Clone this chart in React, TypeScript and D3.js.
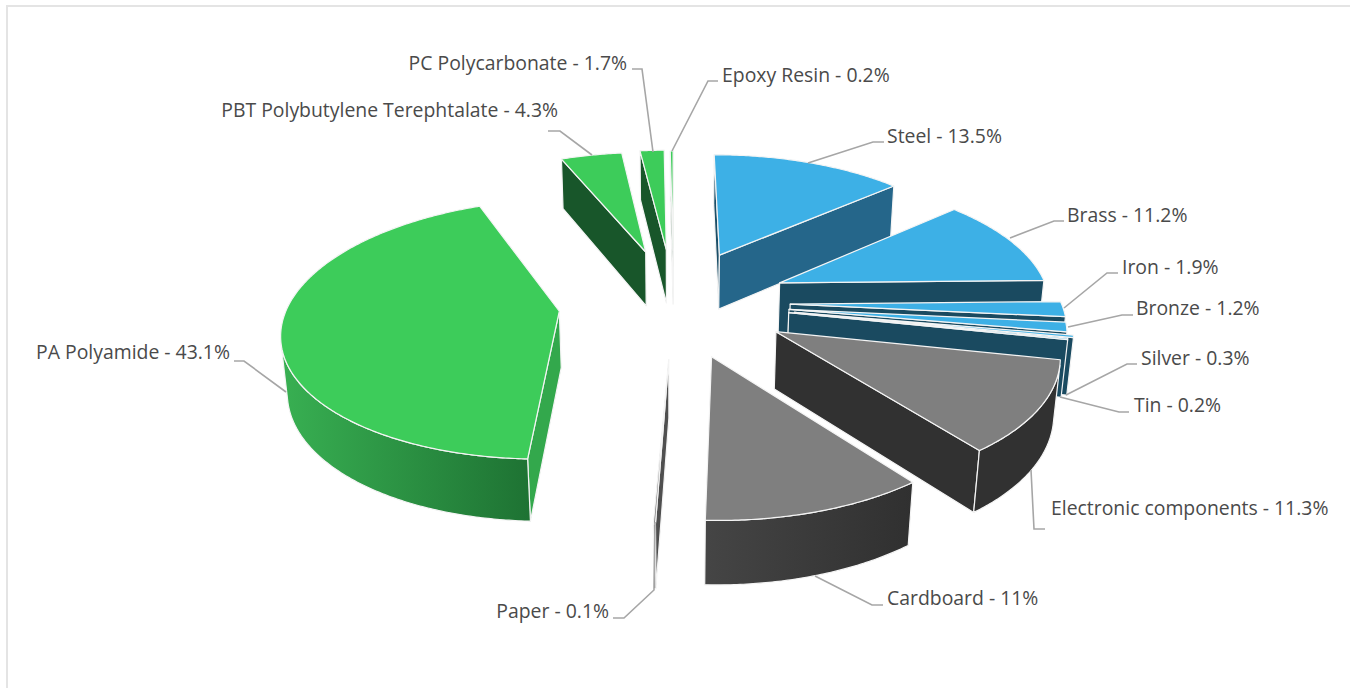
import React from "react";
import * as d3 from "d3";

// chart data
const materials = [
  "Steel", "Brass", "Iron", "Bronze", "Silver", "Tin", "Electronic components",
  "Cardboard", "Paper", "PA Polyamide", "PBT Polybutylene Terephtalate", "PC Polycarbonate", "Epoxy Resin",
];
const shares = [13.5, 11.2, 1.9, 1.2, 0.3, 0.2, 11.3, 11, 0.1, 43.1, 4.3, 1.7, 0.2];
const explosion = [0.431, 0.428, 0.429, 0.426, 0.448, 0.428, 0.432, 0.434, 0.433, 0.425, 0.435, 0.446, 0.436];

// colours per slice: top, start cut, end cut, rim left, rim right
const topColor = ["#3DB0E6", "#3DB0E6", "#3DB0E6", "#3DB0E6", "#3DB0E6", "#3DB0E6", "#7F7F7F", "#7F7F7F", "#7F7F7F", "#3DCC5A", "#3DCC5A", "#3DCC5A", "#3DCC5A"];
const startCut = ["#1C4F68", "#1A4A60", "#1A4A60", "#1A4A60", "#1A4A60", "#1A4A60", "#313131", "#313131", "#4F4F4F", "#33A84C", "#18562A", "#18562A", "#18562A"];
const endCut = ["#25668A", "#1A4A60", "#1A4A60", "#1A4A60", "#1A4A60", "#1A4A60", "#313131", "#313131", "#4F4F4F", "#33A84C", "#18562A", "#18562A", "#18562A"];
const rimLeft = ["#1A4A60", "#1A4A60", "#1A4A60", "#1A4A60", "#1A4A60", "#1A4A60", "#313131", "#454545", "#4F4F4F", "#38B052", "#18562A", "#18562A", "#18562A"];
const rimRight = ["#1A4A60", "#1A4A60", "#1A4A60", "#1A4A60", "#1A4A60", "#1A4A60", "#313131", "#303030", "#4F4F4F", "#1E7233", "#18562A", "#18562A", "#18562A"];

// label layout
const labelX = [887, 1067, 1122, 1136, 1141, 1134, 1051, 887, 609, 230, 558, 627, 722];
const labelY = [143, 222, 274, 315, 365, 412, 515, 605, 618, 359, 117, 70, 82];
const labelAnchor = ["start", "start", "start", "start", "start", "start", "start", "start", "end", "end", "end", "end", "start"];
const leaders: [number, number][][] = [
  [[808, 163], [873, 142], [884, 142]],
  [[1010, 238], [1054, 221], [1064, 221]],
  [[1064, 308], [1107, 273], [1118, 273]],
  [[1068, 327], [1122, 315], [1133, 315]],
  [[1066, 395], [1127, 364], [1137, 364]],
  [[1060, 397], [1119, 412], [1129, 412]],
  [[1031, 470], [1034, 529], [1045, 529]],
  [[815, 576], [872, 605], [883, 605]],
  [[655, 522], [654, 590], [624, 618], [613, 618]],
  [[286, 392], [244, 361], [234, 361]],
  [[592, 155], [560, 131], [548, 131]],
  [[653, 152], [642, 69], [632, 69]],
  [[672, 151], [708, 81], [718, 81]],
];

// camera of the 3D pie
const centerX = 675.61;
const centerY = 301.93;
const radius = 270.81;
const tilt = 0.4812;
const perspective = 0.1511;
const thickness = 0.2372;
const offsetX = -0.0066;
const rotation = -0.0012;

type Pt = [number, number];

const project = (x: number, y: number, z: number): Pt => {
  const w = 1 - perspective * (y * Math.cos(tilt) + z * Math.sin(tilt));
  return [
    centerX + (radius * x) / w,
    centerY + (radius * (y * Math.sin(tilt) - z * Math.cos(tilt))) / w,
  ];
};

const area = (pts: Pt[]) => d3.polygonArea(pts);
const line = d3.line<Pt>();
const closed = (pts: Pt[]) => (line(pts) as string) + "Z";

const arcs = d3
  .pie<number>()
  .sort(null)
  .value((d) => d)
  .startAngle(rotation)
  .endAngle(rotation + 2 * Math.PI)(shares);

function buildSlice(i: number) {
  const { startAngle, endAngle } = arcs[i];
  const mid = (startAngle + endAngle) / 2;
  const ox = offsetX + explosion[i] * Math.sin(mid);
  const oy = -explosion[i] * Math.cos(mid);
  const steps = Math.max(2, Math.ceil((endAngle - startAngle) / 0.01));
  const angles = d3.range(steps + 1).map((k) => startAngle + ((endAngle - startAngle) * k) / steps);
  const rimTop = angles.map((a) => project(ox + Math.sin(a), oy - Math.cos(a), 0));
  const rimBot = angles.map((a) => project(ox + Math.sin(a), oy - Math.cos(a), -thickness));
  const apexTop = project(ox, oy, 0);
  const apexBot = project(ox, oy, -thickness);
  const top: Pt[] = [apexTop, ...rimTop];
  const sign = Math.sign(area(top));
  const facing = (quad: Pt[]) => Math.sign(area(quad)) !== sign;

  const faces: { d: string; fill: string }[] = [];
  const startQuad: Pt[] = [apexTop, rimTop[0], rimBot[0], apexBot];
  const endQuad: Pt[] = [rimTop[steps], apexTop, apexBot, rimBot[steps]];
  if (facing(startQuad)) faces.push({ d: closed(startQuad), fill: startCut[i] });
  if (facing(endQuad)) faces.push({ d: closed(endQuad), fill: endCut[i] });

  // only the part of the rim that looks at the camera
  const visible = d3.range(steps).filter((k) =>
    facing([rimTop[k], rimTop[k + 1], rimBot[k + 1], rimBot[k]])
  );
  let rim = "";
  let rimX: [number, number] = [0, 1];
  if (visible.length) {
    const from = visible[0];
    const to = visible[visible.length - 1] + 1;
    const outline = [...rimTop.slice(from, to + 1), ...rimBot.slice(from, to + 1).reverse()];
    rim = closed(outline);
    rimX = d3.extent(outline, (p) => p[0]) as [number, number];
  }
  return { i, mid, faces, rim, rimX, top: closed(top) };
}

// back slices first
const slices = d3
  .range(shares.length)
  .map(buildSlice)
  .sort((a, b) => d3.descending(Math.cos(a.mid), Math.cos(b.mid)));

export default function App() {
  return (
    <svg
      width={1350}
      height={688}
      viewBox="0 0 1350 688"
      style={{ position: "fixed", left: 0, top: 0, background: "#fff" }}
    >
      <defs>
        {slices.map((s) => (
          <linearGradient key={s.i} id={`rim-${s.i}`} gradientUnits="userSpaceOnUse" x1={s.rimX[0]} x2={s.rimX[1]} y1={0} y2={0}>
            <stop offset="0%" stopColor={rimLeft[s.i]} />
            <stop offset="100%" stopColor={rimRight[s.i]} />
          </linearGradient>
        ))}
      </defs>
      <path d="M7,688V6H1350" fill="none" stroke="#E4E4E4" strokeWidth={2} />
      {slices.map((s) => (
        <g key={s.i} stroke="#F4F4F4" strokeWidth={1.2} strokeLinejoin="round">
          {s.faces.map((f, k) => (
            <path key={k} d={f.d} fill={f.fill} />
          ))}
          {s.rim && <path d={s.rim} fill={`url(#rim-${s.i})`} />}
          <path d={s.top} fill={topColor[s.i]} />
        </g>
      ))}
      {leaders.map((pts, i) => (
        <path key={i} d={line(pts) as string} fill="none" stroke="#A6A6A6" strokeWidth={1.6} />
      ))}
      {materials.map((name, i) => (
        <text
          key={name}
          x={labelX[i]}
          y={labelY[i]}
          textAnchor={labelAnchor[i] as "start" | "end"}
          fontFamily="'Open Sans', sans-serif"
          fontSize={19.4}
          fill="#4A4A4A"
        >
          {`${name} - ${shares[i]}%`}
        </text>
      ))}
    </svg>
  );
}
